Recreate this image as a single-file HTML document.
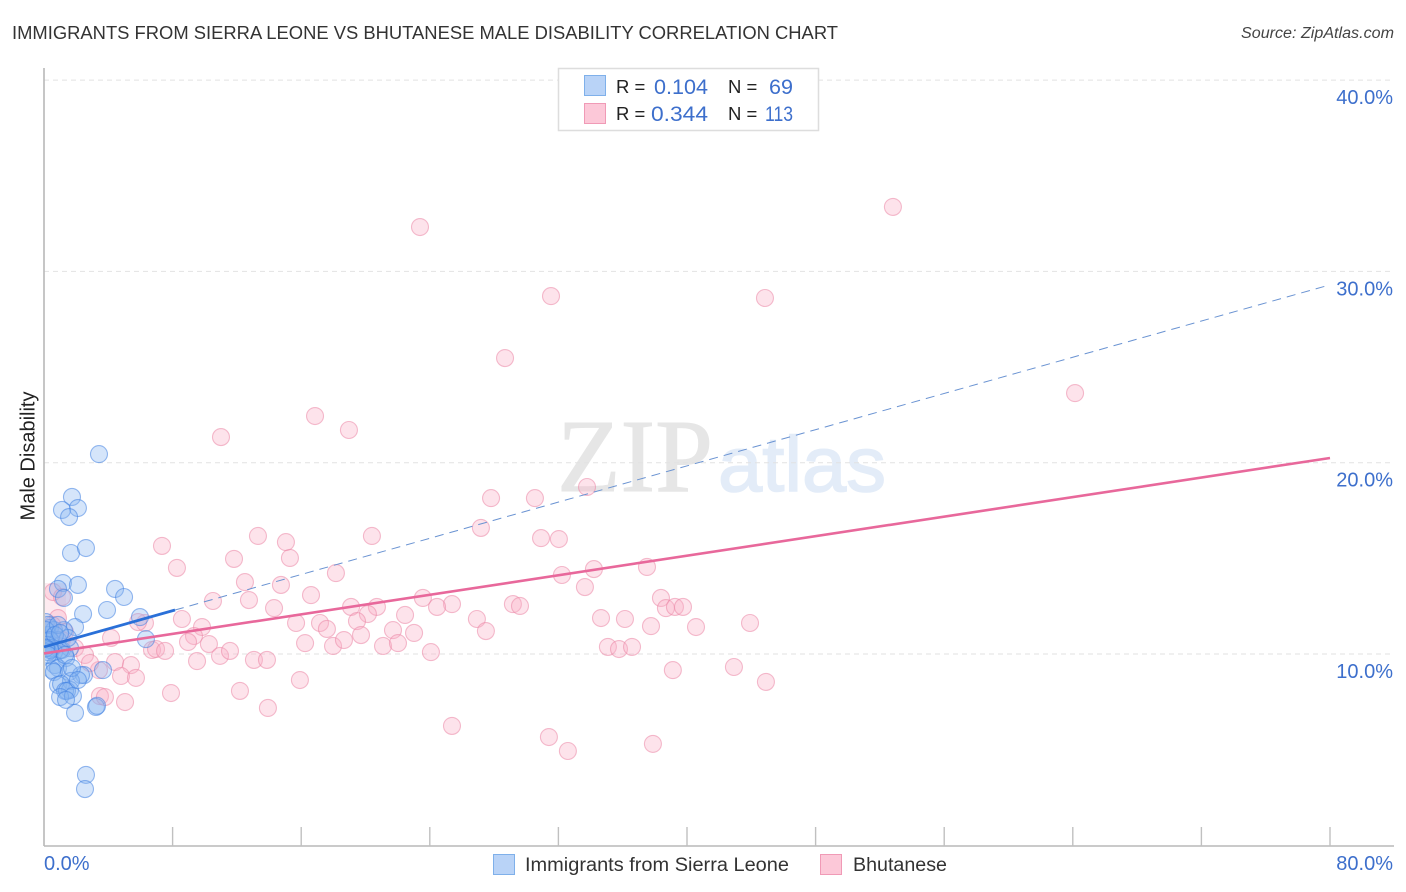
<!DOCTYPE html>
<html>
<head>
<meta charset="utf-8">
<style>
html,body{margin:0;padding:0;background:#fff;}
#chart{display:block;width:1406px;height:892px;font-family:"Liberation Sans",sans-serif;}
</style>
</head>
<body>
<svg id="chart" xmlns="http://www.w3.org/2000/svg" width="1406" height="892" viewBox="0 0 1406 892">
  <defs><clipPath id="plot-clip"><rect x="45" y="60" width="1349" height="786"/></clipPath></defs>
  <rect width="1406" height="892" fill="#fff"/>
  <text x="12" y="39" font-size="18.6" fill="#333" textLength="826" lengthAdjust="spacingAndGlyphs">IMMIGRANTS FROM SIERRA LEONE VS BHUTANESE MALE DISABILITY CORRELATION CHART</text>
  <text x="1241" y="38" font-size="15.5" font-style="italic" fill="#444" textLength="153" lengthAdjust="spacingAndGlyphs">Source: ZipAtlas.com</text>
  <text x="557" y="491" font-family="'Liberation Serif',serif" font-size="104" fill="#e6e6e6" stroke="#e6e6e6" stroke-width="1" textLength="156" lengthAdjust="spacingAndGlyphs">ZIP</text>
  <text x="718" y="491" font-family="'Liberation Sans',sans-serif" font-size="78" fill="#e3ecf8" stroke="#e3ecf8" stroke-width="1.5" textLength="168" lengthAdjust="spacingAndGlyphs">atlas</text>
  <g id="grid"></g>
  <g id="axes"></g>
  <rect x="45" y="583" width="21" height="42" fill="rgba(250,190,205,0.3)"/>
  <g id="pink-points" clip-path="url(#plot-clip)"></g>
  <g id="blue-points" clip-path="url(#plot-clip)"></g>
  <g id="trends"></g>
  <text transform="translate(34.5,456) rotate(-90)" font-size="20" fill="#222" text-anchor="middle">Male Disability</text>
  <g>
    <rect x="558.5" y="68.5" width="260" height="62" fill="#fff" stroke="#ddd" stroke-width="1.5"/>
    <rect x="584.5" y="75.5" width="21" height="20" fill="#b9d3f7" stroke="#7fb0ea"/>
    <rect x="584.5" y="103.5" width="21" height="20" fill="#fcc8d8" stroke="#f09ab6"/>
    <text x="616" y="93" font-size="18.5" fill="#222">R =</text>
    <text x="654" y="94" font-size="21.5" fill="#3d6fcc" textLength="54" lengthAdjust="spacingAndGlyphs">0.104</text>
    <text x="728" y="93" font-size="18.5" fill="#222">N =</text>
    <text x="769" y="94" font-size="21.5" fill="#3d6fcc" textLength="24" lengthAdjust="spacingAndGlyphs">69</text>
    <text x="616" y="120" font-size="18.5" fill="#222">R =</text>
    <text x="651" y="121" font-size="21.5" fill="#3d6fcc" textLength="57" lengthAdjust="spacingAndGlyphs">0.344</text>
    <text x="728" y="120" font-size="18.5" fill="#222">N =</text>
    <text x="765" y="121" font-size="21.5" fill="#3d6fcc" textLength="28" lengthAdjust="spacingAndGlyphs">113</text>
  </g>
  <g>
    <rect x="493.5" y="854.5" width="21" height="20" fill="#b9d3f7" stroke="#7fb0ea"/>
    <text x="525" y="871" font-size="19" fill="#333" textLength="264" lengthAdjust="spacingAndGlyphs">Immigrants from Sierra Leone</text>
    <rect x="820.5" y="854.5" width="21" height="20" fill="#fcc8d8" stroke="#f09ab6"/>
    <text x="853" y="871" font-size="19" fill="#333" textLength="94" lengthAdjust="spacingAndGlyphs">Bhutanese</text>
  </g>
</svg>
<script>
const yTickValues = [10, 20, 30, 40];
const yTickLabels = ["10.0%", "20.0%", "30.0%", "40.0%"];
const xTickValues = [0, 8, 16, 24, 32, 40, 48, 56, 64, 72, 80];
const xEndLabels = ["0.0%", "80.0%"];

const blueX = [3.42,1.74,2.11,1.12,1.56,1.68,2.61,1.18,2.11,0.87,1.24,4.42,4.98,3.92,2.43,5.97,1.93,6.34,1.24,0.12,0.37,0.25,0.62,0.06,0.50,0.87,1.12,1.62,0.62,1.37,3.67,0.68,0.87,0.50,0.62,1.56,2.49,2.30,0.87,1.68,1.06,1.62,1.31,1.43,1.00,1.80,1.93,3.23,3.30,2.61,2.55,0.25,0.12,0.37,0.19,1.00,1.31,0.37,1.74,0.25,2.11,1.37,0.87,1.49,0.37,0.68,1.00,0.12,0.25];
const blueY = [20.45,18.21,17.63,17.53,17.16,15.28,15.54,13.71,13.61,13.40,12.93,13.40,12.98,12.30,12.09,11.93,11.41,10.78,11.25,11.67,11.36,10.99,11.25,10.73,10.47,10.73,10.21,10.31,10.10,9.79,9.16,9.42,9.27,9.16,9.06,9.06,8.90,8.90,8.38,8.59,8.43,8.12,8.07,8.07,7.75,7.80,6.92,7.23,7.29,3.68,2.94,11.52,11.25,10.73,10.47,10.21,9.95,10.31,9.27,10.10,8.64,7.60,11.52,10.84,10.21,10.99,11.10,10.31,9.95];

const pinkX = [52.81,23.39,31.54,44.85,28.68,64.14,16.86,18.97,11.01,33.78,27.81,30.54,27.18,30.92,32.03,13.31,15.05,7.34,15.30,11.82,8.27,20.40,18.16,32.22,34.21,37.51,12.50,14.74,16.61,33.65,10.51,12.75,23.57,38.38,25.38,29.17,29.61,19.10,20.71,24.45,38.69,39.25,39.75,14.31,22.46,20.15,26.93,34.65,36.14,8.58,15.68,17.17,19.47,37.76,40.56,43.92,9.83,21.71,27.49,17.60,6.28,5.85,9.33,23.02,19.72,4.17,8.96,16.24,17.98,18.66,21.09,22.02,10.26,35.08,35.77,36.58,24.07,6.72,6.97,7.53,10.95,11.57,13.06,13.87,9.52,4.42,5.41,3.42,4.79,5.72,39.12,42.92,15.92,44.91,12.19,7.90,3.48,3.79,5.04,13.93,25.38,31.41,37.88,32.59,0.56,1.12,0.87,0.50,1.31,1.12,1.93,2.55,2.86];
const pinkY = [33.37,32.32,28.71,28.61,25.47,23.64,22.44,21.71,21.34,18.73,18.15,18.15,16.59,16.06,16.01,16.17,15.85,15.65,15.02,14.97,14.50,16.17,14.23,14.13,14.44,14.55,13.76,13.61,13.08,13.50,12.77,12.82,12.93,12.93,12.61,12.61,12.51,12.46,12.46,12.46,12.40,12.46,12.46,12.40,12.04,12.09,11.83,11.88,11.83,11.83,11.62,11.62,11.72,11.46,11.41,11.62,11.41,11.25,11.20,11.31,11.62,11.67,10.94,11.10,10.99,10.84,10.63,10.57,10.42,10.73,10.42,10.57,10.52,10.37,10.26,10.37,10.10,10.21,10.26,10.16,9.90,10.16,9.69,9.69,9.63,9.58,9.42,9.16,8.85,8.75,9.16,9.32,8.64,8.54,8.07,7.96,7.80,7.75,7.49,7.18,6.24,5.66,5.30,4.93,13.24,12.98,11.88,11.52,11.15,10.73,10.31,9.95,9.53];

const blueTrend = {intercept: 10.37, slope: 0.2366, solidEnd: 8.15, dashEnd: 80};
const pinkTrend = {intercept: 10.03, slope: 0.1277, end: 80};

const NS = "http://www.w3.org/2000/svg";
function xScale(v){ return 44 + v * 16.075; }
function yScale(v){ return 654 - (v - 10) * 19.13; }
function mk(tag, attrs){
  const el = document.createElementNS(NS, tag);
  for (const k in attrs) el.setAttribute(k, attrs[k]);
  return el;
}

const grid = document.getElementById("grid");
yTickValues.forEach(function(v, i){
  const line = mk("line", {x1:44, x2:1394, y1:yScale(v), y2:yScale(v), stroke:"#e2e2e2", "stroke-width":1, "stroke-dasharray":"5 4"});
  
  
  grid.appendChild(line);
  const t = mk("text", {x:1393, y:yScale(v)+24, "font-size":20, fill:"#3d6fcc", "text-anchor":"end"});
  t.textContent = yTickLabels[i];
  
  
  grid.appendChild(t);
});

const axes = document.getElementById("axes");
const yAxis = mk("line", {x1:44, x2:44, y1:68, y2:846, stroke:"#b8b8b8", "stroke-width":1.6});


axes.appendChild(yAxis);
const xAxis = mk("line", {x1:44, x2:1394, y1:846, y2:846, stroke:"#b8b8b8", "stroke-width":1.6});


axes.appendChild(xAxis);
xTickValues.slice(1).forEach(function(v){
  const tick = mk("line", {x1:xScale(v), x2:xScale(v), y1:827, y2:846, stroke:"#c0c0c0", "stroke-width":1.4});
  
  
  axes.appendChild(tick);
});
const x0Label = mk("text", {x:xScale(xTickValues[0]), y:870, "font-size":20, fill:"#3d6fcc"});
x0Label.textContent = xEndLabels[0];


axes.appendChild(x0Label);
const x1Label = mk("text", {x:1393, y:870, "font-size":20, fill:"#3d6fcc", "text-anchor":"end"});
x1Label.textContent = xEndLabels[1];


axes.appendChild(x1Label);

const pinkG = document.getElementById("pink-points");
pinkX.forEach(function(x, i){
  const c = mk("circle", {cx:xScale(x), cy:yScale(pinkY[i]), r:8.5, fill:"rgba(248,175,198,0.35)", stroke:"rgba(235,135,165,0.55)", "stroke-width":1.1});
  
  
  pinkG.appendChild(c);
});
const blueG = document.getElementById("blue-points");
blueX.forEach(function(x, i){
  const c = mk("circle", {cx:xScale(x), cy:yScale(blueY[i]), r:8.5, fill:"rgba(135,180,240,0.35)", stroke:"rgba(65,130,225,0.55)", "stroke-width":1.1});
  
  
  blueG.appendChild(c);
});

const trends = document.getElementById("trends");
function blueAt(v){ return yScale(blueTrend.intercept + blueTrend.slope * v); }
function pinkAt(v){ return yScale(pinkTrend.intercept + pinkTrend.slope * v); }
const blueDash = mk("line", {x1:xScale(blueTrend.solidEnd), y1:blueAt(blueTrend.solidEnd), x2:xScale(blueTrend.dashEnd), y2:blueAt(blueTrend.dashEnd), stroke:"#6a93d2", "stroke-width":1, "stroke-dasharray":"9 6"});


trends.appendChild(blueDash);
const pinkLine = mk("line", {x1:xScale(0), y1:pinkAt(0), x2:xScale(pinkTrend.end), y2:pinkAt(pinkTrend.end), stroke:"#e8689b", "stroke-width":2.6});


trends.appendChild(pinkLine);
const blueLine = mk("line", {x1:xScale(0), y1:blueAt(0), x2:xScale(blueTrend.solidEnd), y2:blueAt(blueTrend.solidEnd), stroke:"#2a70d8", "stroke-width":2.8});


trends.appendChild(blueLine);
</script>
</body>
</html>
